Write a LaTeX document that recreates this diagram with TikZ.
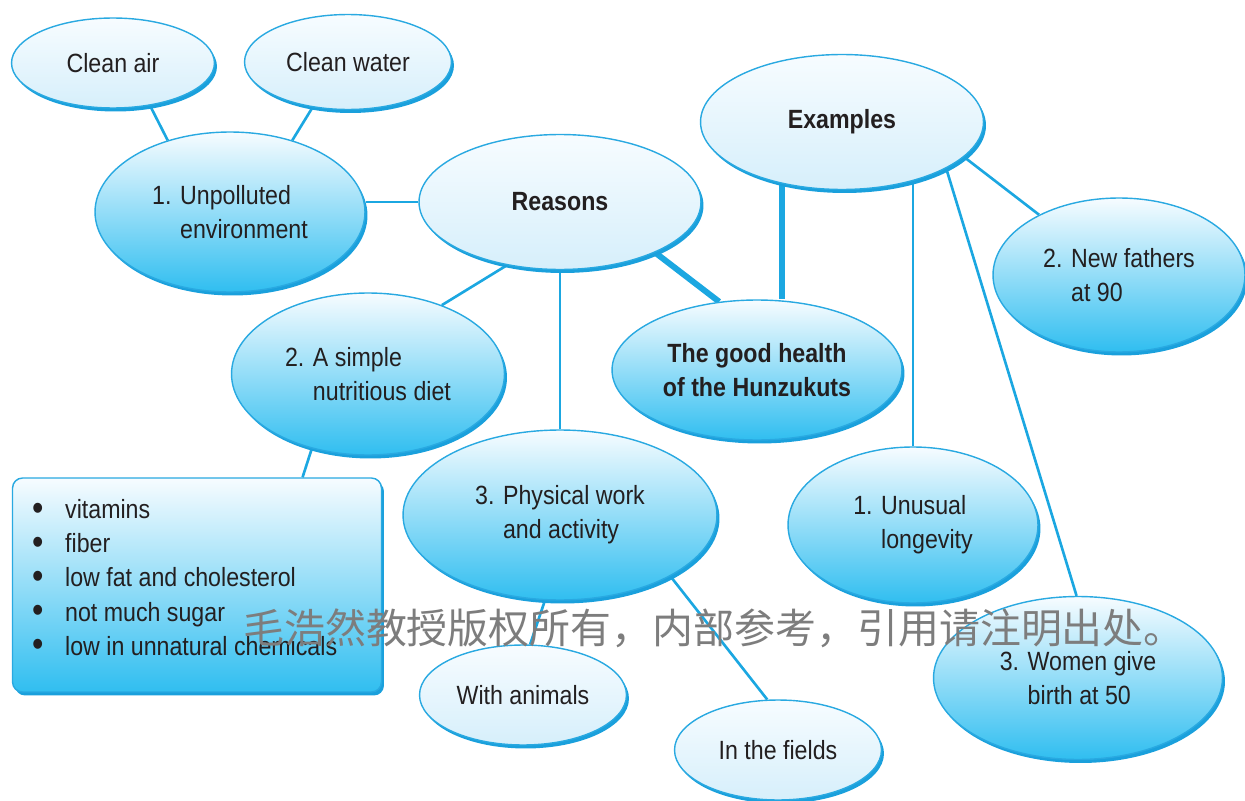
\documentclass[tikz,border=0pt]{standalone}
\usepackage{fontspec}
\usepackage{graphicx}
\setmainfont{Liberation Sans}[FakeStretch=0.88]
\newfontfamily\cjkfont{Noto Sans CJK SC}
\usetikzlibrary{shapes.geometric,shadows,backgrounds,positioning,calc}
\definecolor{bubline}{HTML}{29A9E1}
\definecolor{bubshadow}{HTML}{1AA0DC}
\definecolor{bubdeep}{HTML}{30BEF0}
\definecolor{bubpale}{HTML}{D6EFFB}
\definecolor{bubtop}{HTML}{F7FCFF}
\definecolor{linkblue}{HTML}{1BA7E1}
\definecolor{inktext}{HTML}{231F20}
\definecolor{markgray}{HTML}{7D7D7D}
\newcommand{\dotitem}{\makebox[0.66cm][l]{\raisebox{-1pt}{\scalebox{1.4}{\textbullet}}}}
\tikzset{
  plain/.style={font=\fontsize{15}{19.4}\selectfont},
  strong/.style={font=\fontsize{15}{19.4}\selectfont\bfseries},
  bubble/.style={ellipse, draw=bubline, line width=0.8pt, inner sep=0pt, align=left,
    text=inktext, plain,
    drop shadow={shadow xshift=0.05cm, shadow yshift=-0.07cm, opacity=1, fill=bubshadow}},
  palebubble/.style={bubble, top color=bubtop, bottom color=bubpale},
  deepbubble/.style={bubble, top color=bubtop, bottom color=bubdeep},
  listbox/.style={rectangle, rounded corners=0.2cm, draw=bubline, line width=0.8pt,
    top color=bubtop, bottom color=bubdeep,
    drop shadow={shadow xshift=0.05cm, shadow yshift=-0.07cm, opacity=1, fill=bubshadow}},
  link/.style={draw=linkblue, line width=1.5pt},
  thicklink/.style={draw=linkblue, line width=3.4pt}
}
\begin{document}
\begin{tikzpicture}[x=0.02cm,y=-0.02cm]
\useasboundingbox (0,0) rectangle (1245,801);
%\draw[step=50,gray,very thin] (0,0) grid (1245,801); %background grid
\node[palebubble,minimum width=4.06cm,minimum height=1.8cm] (air) at (113,63) {Clean air};
\node[palebubble,minimum width=4.14cm,minimum height=1.9cm] (water) at (348,62) {Clean water};
\node[deepbubble,minimum width=5.4cm,minimum height=3.2cm] (env) at (230,212) {1. Unpolluted\\\phantom{1. }environment};
\node[palebubble,strong,minimum width=5.64cm,minimum height=2.7cm] (reasons) at (560,202) {Reasons};
\node[palebubble,strong,minimum width=5.66cm,minimum height=2.7cm] (examples) at (842,122) {Examples};
\node[deepbubble,strong,align=center,minimum width=5.8cm,minimum height=2.8cm] (health) at (757,370) {The good health\\of the Hunzukuts};
\node[deepbubble,minimum width=5.46cm,minimum height=3.24cm] (diet) at (368,374) {2. A simple\\\phantom{2. }nutritious diet};
\node[deepbubble,minimum width=5.04cm,minimum height=3.08cm] (fathers) at (1119,275) {2. New fathers\\\phantom{2. }at 90};
\node[deepbubble,minimum width=6.28cm,minimum height=3.4cm] (work) at (560,515) {3. Physical work\\\phantom{3. }and activity};
\node[deepbubble,minimum width=5cm,minimum height=3.12cm] (longevity) at (913,525) {1. Unusual\\\phantom{1. }longevity};
\node[deepbubble,minimum width=5.78cm,minimum height=3.26cm] (women) at (1078,678) {3. Women give\\\phantom{3. }birth at 50};
\node[palebubble,minimum width=4.14cm,minimum height=2cm] (animals) at (523,695) {With animals};
\node[palebubble,minimum width=4.14cm,minimum height=2cm] (fields) at (778,750) {In the fields};
\node[listbox,minimum width=7.38cm,minimum height=4.28cm] (box) at (197,585) {};
\node[plain,text=inktext,inner sep=0pt,align=left,below right=0.44cm and 0.4cm of box.north west] (items)
  {\dotitem vitamins\\
   \dotitem fiber\\
   \dotitem low fat and cholesterol\\
   \dotitem not much sugar\\
   \dotitem low in unnatural chemicals};
\begin{scope}[on background layer]
\draw[link] (air.-49) -- (env.131);
\draw[link] (water.-128) -- (env.49);
\draw[link] (reasons.west) -- (reasons.west -| env.east);
\draw[link] (reasons.-130) -- (diet.43);
\draw[link] (reasons.south) -- (work.north);
\draw[thicklink] (reasons.-28) -- (health.119);
\draw[thicklink] (examples.-134) -- (examples.-134 |- health.north);
\draw[link] (longevity.north) -- (longevity.north |- examples.-39);
\draw[link] (examples.-16) -- (fathers.143);
\draw[link] (examples.-24) -- (women.91);
\draw[link] (diet.-127) -- ($(box.north)!0.57!(box.north east)$);
\draw[link] (work.-100) -- (animals.82);
\draw[link] (work.-29) -- (fields.102);
\end{scope}
\node[text=markgray,font=\cjkfont\fontsize{23.3}{28}\selectfont] (mark) at (714,628) {毛浩然教授版权所有，内部参考，引用请注明出处。};
\end{tikzpicture}
\end{document}
